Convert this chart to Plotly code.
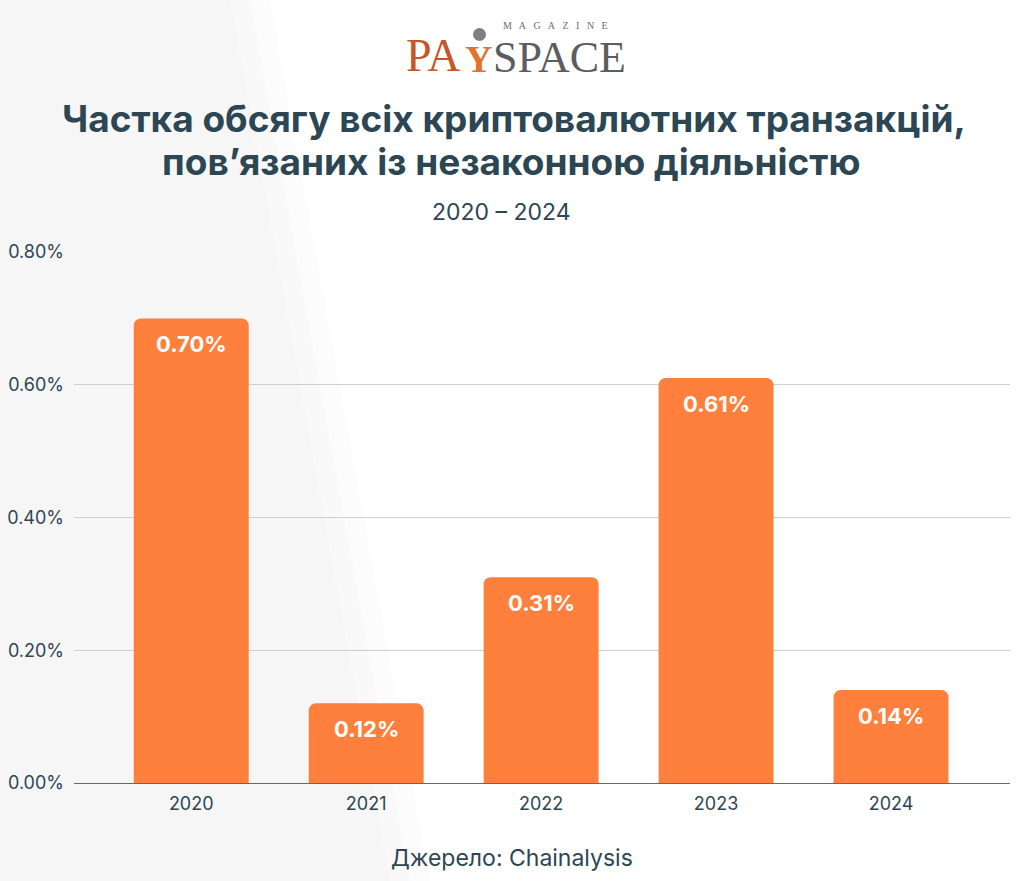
import plotly.graph_objects as go

years = ["2020", "2021", "2022", "2023", "2024"]
shares = [0.70, 0.12, 0.31, 0.61, 0.14]
tick_vals = [0.0, 0.2, 0.4, 0.6, 0.8]
tick_text = ["0.00%", "0.20%", "0.40%", "0.60%", "0.80%"]

title_line1 = "Частка обсягу всіх криптовалютних транзакцій,"
title_line2 = "пов’язаних із незаконною діяльністю"
subtitle = "2020 – 2024"
source = "Джерело: Chainalysis"

TXT = "#2d4654"
BAR = "#ff7f3c"
FONT = "Inter"

W, H = 1024, 881
L, R, T, B = 74, 14, 252, 98
pw, ph = W - L - R, H - T - B


def px(x):
    return (x - L) / pw


def py(y):
    return (H - B - y) / ph


fig = go.Figure()
fig.add_trace(go.Bar(
    x=list(range(len(years))), y=shares,
    marker=dict(color=BAR, line=dict(width=0), cornerradius=7),
    width=0.657,
    hoverinfo="skip",
))

annotations = []
for i, v in enumerate(shares):
    annotations.append(dict(
        x=i, y=v, xref="x", yref="y", text=f"{v:.2f}%", showarrow=False,
        yanchor="top", yshift=-11,
        font=dict(family=FONT, size=22, color="white", weight="bold"),
    ))

annotations += [
    dict(x=px(514), y=py(118), xref="paper", yref="paper", text=title_line1,
         showarrow=False, xanchor="center", yanchor="middle",
         font=dict(family=FONT, size=37, color=TXT, weight="bold")),
    dict(x=px(511), y=py(161), xref="paper", yref="paper", text=title_line2,
         showarrow=False, xanchor="center", yanchor="middle",
         font=dict(family=FONT, size=37, color=TXT, weight="bold")),
    dict(x=px(501), y=py(212), xref="paper", yref="paper", text=subtitle,
         showarrow=False, xanchor="center", yanchor="middle",
         font=dict(family=FONT, size=23, color=TXT)),
    dict(x=px(512), y=py(858), xref="paper", yref="paper", text=source,
         showarrow=False, xanchor="center", yanchor="middle",
         font=dict(family=FONT, size=23, color=TXT)),
    # logo
    dict(x=px(404), y=py(56), xref="paper", yref="paper", text="PA",
         showarrow=False, xanchor="left", yanchor="middle",
         font=dict(family="Liberation Serif", size=46, color="#c4572a")),
    dict(x=px(478), y=py(59), xref="paper", yref="paper", text="Y",
         showarrow=False, xanchor="center", yanchor="middle",
         font=dict(family="Liberation Serif", size=38, color="#e0742f", weight="bold")),
    dict(x=px(491), y=py(58), xref="paper", yref="paper", text="SPACE",
         showarrow=False, xanchor="left", yanchor="middle",
         font=dict(family="Liberation Serif", size=44, color="#5b5d60")),
    dict(x=px(501), y=py(25), xref="paper", yref="paper",
         text="\u2002 ".join(list("MAGAZINE")),
         showarrow=False, xanchor="left", yanchor="middle",
         font=dict(family="Liberation Serif", size=10, color="#6d6f72")),
]

shapes = []
# soft diagonal light band in the background
bands = [(230, 390, "#f9f9f9"), (250, 410, "#fcfcfc"), (270, 430, "#ffffff")]
for xt, xb, col in bands:
    shapes.append(dict(
        type="path", xref="paper", yref="paper", layer="below",
        path=f"M {px(xt)},{py(0)} L {px(1024)},{py(0)} L {px(1024)},{py(881)} L {px(xb)},{py(881)} Z",
        fillcolor=col, line=dict(width=0)))
shapes.append(dict(type="circle", xref="paper", yref="paper",
                   x0=px(473), x1=px(486), y0=py(41), y1=py(28),
                   fillcolor="#7d7f82", line=dict(width=0)))

fig.update_layout(
    width=W, height=H,
    margin=dict(l=L, r=R, t=T, b=B, autoexpand=False),
    paper_bgcolor="#f6f6f6", plot_bgcolor="rgba(0,0,0,0)",
    showlegend=False,
    font=dict(family=FONT, color=TXT),
    annotations=annotations, shapes=shapes,
    xaxis=dict(
        tickmode="array", tickvals=list(range(len(years))), ticktext=years,
        range=[-0.67, 4.68], showgrid=False, zeroline=False, showline=False,
        tickfont=dict(family=FONT, size=18, color=TXT), ticks="", ticklabelstandoff=8,
        fixedrange=True,
    ),
    yaxis=dict(
        range=[0, 0.8], tickmode="array", tickvals=tick_vals, ticktext=tick_text,
        showgrid=True, gridcolor="#cfcfcf", gridwidth=1,
        zeroline=True, zerolinecolor="#5d6b73", zerolinewidth=1,
        showline=False, ticks="", ticklabelstandoff=9,
        tickfont=dict(family=FONT, size=18, color=TXT), fixedrange=True,
    ),
)

fig.write_html(
    "out.html",
    config={"displayModeBar": False},
    post_script="document.body.style.margin='0';document.body.style.padding='0';",
)
